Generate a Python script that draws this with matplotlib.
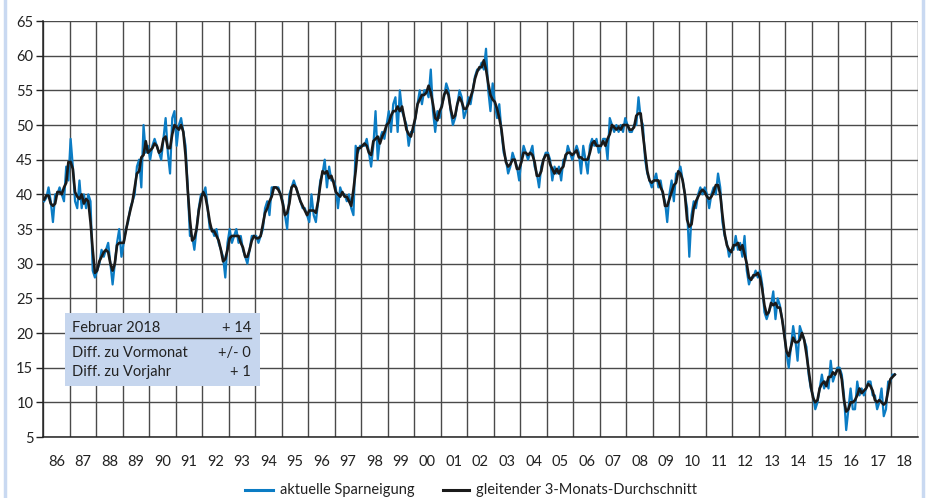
import numpy as np
import pandas as pd
import matplotlib
matplotlib.use("Agg")
import matplotlib.pyplot as plt
from matplotlib.lines import Line2D
from matplotlib.patches import Rectangle

plt.rcParams['font.family'] = ['Lato', 'DejaVu Sans']

# monthly values of the "Sparneigung" index, Jan 1986 .. Feb 2018
s86 = [39, 39.5, 41, 39, 36, 40, 40, 41, 40, 39, 44, 42]
s87 = [48, 44, 39, 38, 42, 38, 40, 38, 40, 39, 29, 28]
s88 = [29, 30, 32, 31, 32, 33, 30, 27, 30, 33, 35, 31]
s89 = [33, 35, 36, 38, 39, 40, 44, 45, 41, 50, 46, 47]
s90 = [45, 47, 48, 47, 46, 45, 48, 51, 46, 43, 51, 52]
s91 = [47, 50, 51, 49, 47, 41, 34, 34, 32, 35, 38, 40]
s92 = [40, 41, 38, 35, 35, 34, 35, 33, 32, 31, 28, 33]
s93 = [35, 33, 34, 35, 33, 34, 32, 31, 30, 32, 34, 34]
s94 = [34, 33, 34, 35, 38, 39, 37, 41, 41, 41, 41, 40]
s95 = [39, 37, 35, 40, 41, 42, 41, 40, 39, 38, 38, 37]
s96 = [36, 40, 37, 36, 39, 42, 43, 45, 41, 44, 42, 42]
s97 = [41, 38, 41, 40, 40, 39, 40, 38, 37, 47, 46, 47]
s98 = [47, 47, 48, 46, 44, 47, 52, 45, 48, 49, 48, 50]
s99 = [52, 49, 53, 54, 49, 55, 52, 51, 50, 47, 49, 49]
s00 = [51, 53, 55, 53, 55, 55, 54, 58, 52, 49, 52, 51]
s01 = [53, 54, 56, 55, 52, 50, 51, 53, 55, 54, 51, 52]
s02 = [54, 53, 55, 57, 58, 58, 59, 58, 61, 55, 52, 56]
s03 = [53, 51, 53, 49, 46, 45, 43, 44, 46, 45, 44, 42]
s04 = [45, 47, 46, 45, 46, 47, 44, 43, 41, 44, 45, 46]
s05 = [46, 45, 42, 44, 43, 44, 42, 45, 45, 47, 46, 45]
s06 = [46, 47, 46, 43, 47, 45, 43, 47, 48, 47, 48, 46]
s07 = [47, 48, 48, 45, 51, 50, 49, 50, 49, 50, 49, 51]
s08 = [50, 49, 49, 50, 50, 54, 51, 50, 45, 43, 42, 41]
s09 = [42, 43, 41, 42, 40, 39, 36, 40, 42, 39, 43, 43]
s10 = [44, 42, 40, 38, 31, 37, 39, 38, 40, 41, 40, 41]
s11 = [40, 38, 40, 41, 40, 43, 41, 36, 34, 33, 31, 32]
s12 = [32, 34, 32, 33, 31, 34, 29, 27, 28, 28, 29, 28]
s13 = [29, 27, 23, 22, 23, 24, 26, 22, 25, 24, 22, 20]
s14 = [17, 15, 18, 21, 19, 16, 21, 20, 19, 18, 14, 12]
s15 = [11, 9, 10, 12, 14, 12, 13, 12, 16, 13, 14, 15]
s16 = [15, 14, 11, 6, 9, 12, 9, 9, 13, 11, 12, 11]
s17 = [12, 13, 13, 11, 11, 9, 10, 12, 8, 9, 13, 13]
s18 = [14, 14]

year_labels = ['86', '87', '88', '89', '90', '91', '92', '93', '94', '95', '96',
               '97', '98', '99', '00', '01', '02', '03', '04', '05', '06', '07',
               '08', '09', '10', '11', '12', '13', '14', '15', '16', '17', '18']

box_rows = [("Februar 2018", "+ 14"), ("Diff. zu Vormonat", "+/- 0"), ("Diff. zu Vorjahr", "+ 1")]

values = np.array(s86 + s87 + s88 + s89 + s90 + s91 + s92 + s93 + s94 + s95 + s96 +
                  s97 + s98 + s99 + s00 + s01 + s02 + s03 + s04 + s05 + s06 + s07 +
                  s08 + s09 + s10 + s11 + s12 + s13 + s14 + s15 + s16 + s17 + s18, dtype=float)
t = 1986 + (np.arange(len(values)) + 0.5) / 12
avg3 = pd.Series(values).rolling(3, center=True, min_periods=1).mean().values

BLUE = '#0b7cc4'

fig = plt.figure(figsize=(9.27, 4.98), dpi=100)
ax = fig.add_axes([43 / 927, 1 - 437 / 498, 875 / 927, 416 / 498])

ax.plot(t, values, color=BLUE, lw=1.6, zorder=3)
ax.plot(t, avg3, color='#1a1a1a', lw=1.9, zorder=4)

ax.set_xlim(1986, 2019)
ax.set_ylim(5, 65)
ax.set_yticks(np.arange(5, 66, 5))
ax.set_xticks(np.arange(1986, 2020))
ax.set_xticklabels([])
ax.set_xticks(np.arange(1986, 2019) + 0.5, minor=True)
ax.set_xticklabels(year_labels, minor=True)
ax.tick_params(axis='x', which='both', length=0, pad=13, labelsize=10.5, colors='#222222')
ax.tick_params(axis='y', length=5, width=1, color='#222222', labelsize=10.5, labelcolor='#222222', pad=2)
ax.grid(True, which='major', color='#4a4a4a', lw=1.0)
ax.set_axisbelow(True)
for side in ['top', 'right']:
    ax.spines[side].set_visible(False)
for side in ['left', 'bottom']:
    ax.spines[side].set_color('#222222')
    ax.spines[side].set_linewidth(1.1)

# info box
bx0, bx1 = 65 / 927, 260 / 927
by0, by1 = 1 - 386 / 498, 1 - 313 / 498
fig.patches.append(Rectangle((bx0, by0), bx1 - bx0, by1 - by0, transform=fig.transFigure,
                             facecolor='#c6d6ee', edgecolor='none', zorder=5))
row_y = [1 - 328 / 498, 1 - 353 / 498, 1 - 372 / 498]
for (lab, val), yy in zip(box_rows, row_y):
    fig.text(72 / 927, yy, lab, ha='left', va='center', fontsize=10.5, color='#222222', zorder=6)
    fig.text(251 / 927, yy, val, ha='right', va='center', fontsize=10.5, color='#222222', zorder=6)
fig.add_artist(Line2D([70 / 927, 251 / 927], [1 - 338 / 498] * 2, color='#333333', lw=1.0, zorder=6))

# legend
ly = 1 - 490 / 498
fig.add_artist(Line2D([245 / 927, 273 / 927], [ly, ly], color=BLUE, lw=2.2))
fig.text(280 / 927, ly, "aktuelle Sparneigung", ha='left', va='center', fontsize=10.5, color='#222222')
fig.add_artist(Line2D([443 / 927, 469 / 927], [ly, ly], color='#1a1a1a', lw=2.2))
fig.text(476 / 927, ly, "gleitender 3-Monats-Durchschnitt", ha='left', va='center', fontsize=10.5, color='#222222')

# light blue frame at the sides
fig.add_artist(Line2D([5 / 927, 5 / 927], [0, 1], color='#c9d9f1', lw=2.5))
fig.add_artist(Line2D([923 / 927, 923 / 927], [0, 1], color='#c9d9f1', lw=2.5))

fig.savefig('out.png', dpi=100)
